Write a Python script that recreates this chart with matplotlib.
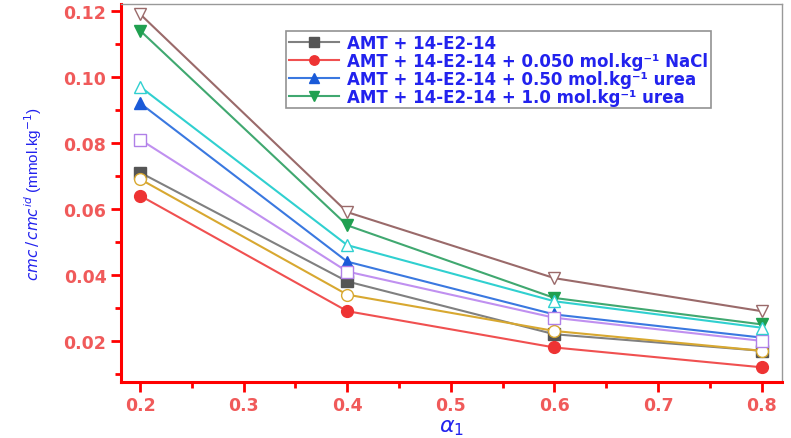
import matplotlib.pyplot as plt
from matplotlib.ticker import MultipleLocator

alpha1 = [0.2, 0.4, 0.6, 0.8]

# cmc / cmc^id values
amt = [0.071, 0.038, 0.022, 0.017]           # AMT + 14-E2-14 (grey squares)
nacl = [0.064, 0.029, 0.018, 0.012]          # + 0.050 NaCl (red circles)
urea050 = [0.092, 0.044, 0.028, 0.021]       # + 0.50 urea (blue up triangles)
urea10 = [0.114, 0.055, 0.033, 0.025]        # + 1.0 urea (green down triangles)
open_circle = [0.069, 0.034, 0.023, 0.017]   # open circles (orange)
open_square = [0.081, 0.041, 0.027, 0.020]   # open squares (purple)
open_up = [0.097, 0.049, 0.032, 0.024]       # open up triangles (cyan)
open_down = [0.119, 0.059, 0.039, 0.029]     # open down triangles (brown)

labels = ['AMT + 14-E2-14',
          'AMT + 14-E2-14 + 0.050 mol.kg\u207b\u00b9 NaCl',
          'AMT + 14-E2-14 + 0.50 mol.kg\u207b\u00b9 urea',
          'AMT + 14-E2-14 + 1.0 mol.kg\u207b\u00b9 urea']

plt.rcParams['font.family'] = ['DejaVu Sans']
plt.rcParams['mathtext.fontset'] = 'custom'
plt.rcParams['mathtext.rm'] = 'DejaVu Sans'
plt.rcParams['mathtext.it'] = 'DejaVu Sans:italic'
plt.rcParams['mathtext.bf'] = 'DejaVu Sans:bold'

fig = plt.figure(figsize=(7.91, 4.39), dpi=100)
ax = fig.add_axes([0.153, 0.128, 0.836, 0.861])

ms = 8.5
lw = 1.5
l1, = ax.plot(alpha1, amt, color='#808080', marker='s', mfc='#555555', mec='#555555', ms=ms, lw=lw)
l2, = ax.plot(alpha1, nacl, color='#f05050', marker='o', mfc='#ee3333', mec='#ee3333', ms=ms, lw=lw)
l3, = ax.plot(alpha1, urea050, color='#3a78e0', marker='^', mfc='#1a5ad8', mec='#1a5ad8', ms=ms, lw=lw)
l4, = ax.plot(alpha1, urea10, color='#40a870', marker='v', mfc='#20a050', mec='#20a050', ms=ms, lw=lw)
ax.plot(alpha1, open_circle, color='#d8a830', marker='o', mfc='white', mec='#d8a830', ms=ms, lw=lw)
ax.plot(alpha1, open_square, color='#c090f0', marker='s', mfc='white', mec='#b080e8', ms=ms, lw=lw)
ax.plot(alpha1, open_up, color='#30d0d0', marker='^', mfc='white', mec='#30d0d0', ms=ms, lw=lw)
ax.plot(alpha1, open_down, color='#9a6a6a', marker='v', mfc='white', mec='#9a6a6a', ms=ms, lw=lw)

ax.set_xlim(0.1816, 0.82)
ax.set_ylim(0.0076, 0.1221)
ax.xaxis.set_major_locator(MultipleLocator(0.1))
ax.xaxis.set_minor_locator(MultipleLocator(0.05))
ax.yaxis.set_major_locator(MultipleLocator(0.02))
ax.yaxis.set_minor_locator(MultipleLocator(0.01))

for side in ['left', 'bottom']:
    ax.spines[side].set_color('red')
    ax.spines[side].set_linewidth(2.2)
for side in ['top', 'right']:
    ax.spines[side].set_color('#999999')
    ax.spines[side].set_linewidth(1.0)

ax.tick_params(which='both', direction='out', colors='red', width=2)
ax.tick_params(which='major', length=7, labelsize=12.5, labelcolor='#f05a5a')
ax.tick_params(which='minor', length=4)
ax.xaxis.set_major_formatter(plt.FuncFormatter(lambda v, p: f'{v:.1f}'))
ax.yaxis.set_major_formatter(plt.FuncFormatter(lambda v, p: f'{v:.2f}'))
for t in ax.get_xticklabels() + ax.get_yticklabels():
    t.set_fontweight('bold')

ax.set_ylabel(r'$cmc\,/\,cmc^{id}$ (mmol.kg$^{-1}$)', color='#2222ee', fontsize=11,
              family='Liberation Sans', labelpad=14)
ax.set_xlabel(r'$\alpha_1$', color='#2222ee', fontsize=16, labelpad=2)

leg = ax.legend([l1, l2, l3, l4], labels, loc='upper left', bbox_to_anchor=(0.25, 0.928),
                prop={'size': 12, 'weight': 'bold'}, frameon=True, fancybox=False,
                edgecolor='#777777', borderpad=0.15, labelspacing=0.0, handlelength=3.0,
                handletextpad=0.5, markerscale=0.8, borderaxespad=0)
leg.get_frame().set_linewidth(1.2)
for t in leg.get_texts():
    t.set_color('#2222ee')

fig.savefig('out.png', dpi=100)
